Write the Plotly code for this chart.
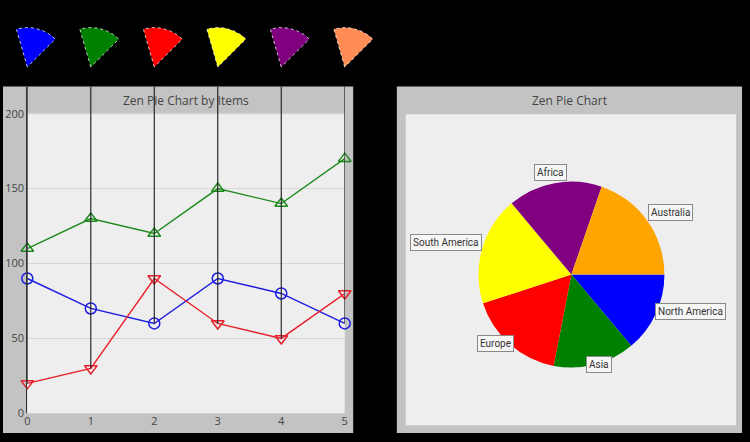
import numpy as np
import plotly.graph_objects as go

W, H = 750, 442

# ---------------- data ----------------
x_vals = [0, 1, 2, 3, 4, 5]
blue_vals = [90, 70, 60, 90, 80, 60]
green_vals = [110, 130, 120, 150, 140, 170]
red_vals = [20, 30, 90, 60, 50, 80]
y_ticks = [0, 50, 100, 150, 200]
icon_colors = ["#0000ff", "#008000", "#ff0000", "#ffff00", "#800080", "#ff8c55"]

pie_labels = ["North America", "Asia", "Europe", "South America", "Africa", "Australia"]
pie_values = [50, 51, 61, 68, 59, 71]
pie_colors = ["#0000ff", "#008000", "#ff0000", "#ffff00", "#800080", "#ffa500"]

# ---------------- layout geometry (pixels) ----------------
def fx(px):
    return px / W

def fy(py):
    return (H - py) / H

PLOT_L, PLOT_R = 24.5, 344.5       # x=0 .. x=5
PLOT_BOT, Y200 = 420.0, 115.5      # y=0 .. y=200
PANEL_TOP = 88.0
Y_TOP = 200 * (PLOT_BOT - PANEL_TOP) / (PLOT_BOT - Y200)

PIE_CX, PIE_CY, PIE_R = 573.0, 274.0, 92.0
PIE_DOM_CY, PIE_DOM_R = 279.0, 94.5   # domain box that renders at the target centre/radius

fig = go.Figure()

# series
series = [
    (blue_vals, "#1c1ce0", "circle-open"),
    (green_vals, "#1e8a1e", "triangle-up-open"),
    (red_vals, "#e8202a", "triangle-down-open"),
]
for vals, col, sym in series:
    fig.add_trace(go.Scatter(
        x=x_vals, y=vals, mode="lines+markers",
        line=dict(color=col, width=1.4),
        marker=dict(symbol=sym, size=11, color=col, line=dict(width=1.5, color=col)),
        cliponaxis=False, hoverinfo="skip",
    ))

# vertical pin lines from the top down to the lowest point of each x
vx, vy = [], []
for i, xv in enumerate(x_vals):
    lo = min(blue_vals[i], green_vals[i], red_vals[i])
    vx += [xv, xv, None]
    vy += [lo, Y_TOP, None]
fig.add_trace(go.Scatter(x=vx, y=vy, mode="lines",
                         line=dict(color="#1a1a1a", width=1.1), hoverinfo="skip"))

# wedge icons at top, placed over each x position (pixel overlay axis)
R_ICON = 40
APEX_Y = H - 68
angs = np.radians(np.linspace(-16, 45, 30))
for i, xv in enumerate(x_vals):
    ax = PLOT_L + xv * (PLOT_R - PLOT_L) / (x_vals[-1] - x_vals[0])
    px = [ax] + list(ax + R_ICON * np.sin(angs)) + [ax]
    py = [APEX_Y] + list(APEX_Y + R_ICON * np.cos(angs)) + [APEX_Y]
    fig.add_trace(go.Scatter(
        x=px, y=py, mode="lines", fill="toself",
        fillcolor=icon_colors[i],
        line=dict(color="rgba(255,255,255,0.75)", width=1, dash="dot"),
        xaxis="x2", yaxis="y2", hoverinfo="skip",
    ))

# pie
fig.add_trace(go.Pie(
    labels=pie_labels, values=pie_values,
    marker=dict(colors=pie_colors, line=dict(width=0)),
    sort=False, direction="clockwise", rotation=90,
    textinfo="none", hoverinfo="skip",
    domain=dict(x=[fx(PIE_CX - PIE_DOM_R), fx(PIE_CX + PIE_DOM_R)],
                y=[fy(PIE_DOM_CY + PIE_DOM_R), fy(PIE_DOM_CY - PIE_DOM_R)]),
))

# pie labels
total = sum(pie_values)
cum = 0.0
annotations = []
R_LAB = 100
for lab, v in zip(pie_labels, pie_values):
    mid = -np.radians((cum + v / 2) / total * 360)
    cum += v
    c, s = np.cos(mid), np.sin(mid)
    hw = len(lab) * 2.3 + 2
    lx = PIE_CX + R_LAB * c + c * hw
    ly = PIE_CY - R_LAB * s
    annotations.append(dict(
        text=lab, x=fx(lx), y=fy(ly), xref="paper", yref="paper",
        xanchor="center", yanchor="middle", showarrow=False,
        font=dict(family="Roboto", size=10, color="#333333"),
        bgcolor="#f6f6f6", bordercolor="#8a8a8a", borderwidth=1, borderpad=2,
    ))

# titles
annotations.append(dict(text="Zen Pie Chart by Items", x=fx((PLOT_L + PLOT_R) / 2), y=fy(102),
                        xref="paper", yref="paper", showarrow=False,
                        xanchor="center", yanchor="middle",
                        font=dict(family="Open Sans", size=12, color="#454545")))
annotations.append(dict(text="Zen Pie Chart", x=fx(571), y=fy(102),
                        xref="paper", yref="paper", showarrow=False,
                        xanchor="center", yanchor="middle",
                        font=dict(family="Open Sans", size=12, color="#454545")))

def rect(x0, y0, x1, y1, color):
    return dict(type="rect", xref="paper", yref="paper",
                x0=fx(x0), x1=fx(x1), y0=fy(y1), y1=fy(y0),
                fillcolor=color, line=dict(width=0), layer="below")

shapes = [
    rect(0, PANEL_TOP, 353, 440, "#c3c3c3"),
    rect(PLOT_L, 116, PLOT_R, PLOT_BOT, "#eeeeee"),
    rect(397, PANEL_TOP, 745, 440, "#c3c3c3"),
    rect(406, 116, 739, 432, "#eeeeee"),
]

fig.update_layout(
    width=W, height=H,
    margin=dict(l=0, r=0, t=0, b=0, pad=0),
    paper_bgcolor="#000000",
    plot_bgcolor="rgba(0,0,0,0)",
    showlegend=False,
    shapes=shapes,
    annotations=annotations,
    font=dict(family="Open Sans", size=11, color="#444444"),
    xaxis=dict(domain=[fx(PLOT_L), fx(PLOT_R)], range=[x_vals[0], x_vals[-1]],
               showgrid=False, zeroline=False, showline=False, ticks="",
               tickvals=x_vals, tickfont=dict(size=11, color="#444444"),
               anchor="y", fixedrange=True),
    yaxis=dict(domain=[fy(PLOT_BOT), fy(PANEL_TOP)], range=[0, Y_TOP],
               tickvals=y_ticks, showgrid=True, gridcolor="#d6d6d6", gridwidth=1,
               zeroline=False, showline=True, linecolor="#333333", linewidth=1,
               ticks="", tickfont=dict(size=11, color="#444444"),
               anchor="x", fixedrange=True),
    xaxis2=dict(domain=[0, 1], range=[0, W], visible=False, anchor="y2", fixedrange=True),
    yaxis2=dict(domain=[0, 1], range=[0, H], visible=False, anchor="x2", fixedrange=True),
)

fig.write_html("out.html")
